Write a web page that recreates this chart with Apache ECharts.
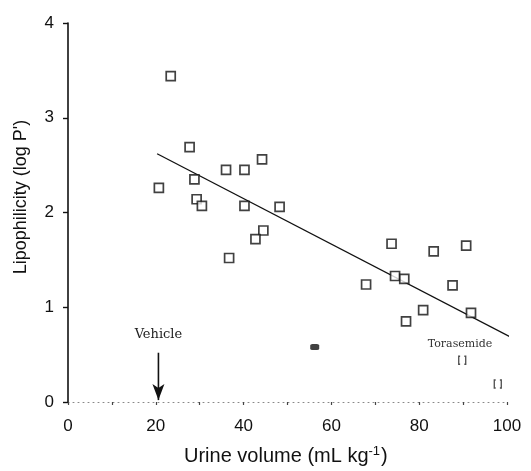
<!DOCTYPE html>
<html><head><meta charset="utf-8">
<script src="https://cdn.jsdelivr.net/npm/echarts@6/dist/echarts.min.js"></script>
<style>html,body{margin:0;padding:0;background:#fff}#c{width:531px;height:471px}</style>
</head><body><div id="c"></div>
<script>
// Data
const compoundX = [23.4, 27.7, 44.2, 36.0, 40.2, 28.8, 20.7, 29.3, 30.5, 40.2, 48.2, 44.5, 42.7, 36.7,
                   73.7, 83.3, 90.7, 74.5, 76.6, 67.9, 87.6, 91.8, 80.9, 77.0];
const compoundY = [3.44, 2.69, 2.56, 2.45, 2.45, 2.35, 2.26, 2.14, 2.07, 2.07, 2.06, 1.81, 1.72, 1.52,
                   1.67, 1.59, 1.65, 1.33, 1.30, 1.24, 1.23, 0.94, 0.97, 0.85];
const torasemideX = [89.8, 97.9];
const torasemideY = [0.44, 0.19];
const blobX = [56.2];
const blobY = [0.58];
const fitX = [20.3, 101.0];
const fitY = [2.62, 0.68];
const xTicks = [0, 20, 40, 60, 80, 100];
const yTicks = [0, 1, 2, 3, 4];
const vehicleX = 20.6;
const arrowY = [0.52, 0.02];
const vehicleLabelY = 0.71;
const vehicleLabel = 'Vehicle';
const torasemideLabel = 'Torasemide';
const torasemideLabelPos = [89.3, 0.61];
const xTitle = 'Urine volume (mL kg';
const xTitleSup = '-1';
const yTitle = "Lipophilicity (log P')";

const zip = (a, b) => a.map((v, i) => [v, b[i]]);
const chart = echarts.init(document.getElementById('c'));
const font = 'Liberation Sans, Arial, Helvetica, sans-serif';
const serif = 'DejaVu Serif, Liberation Serif, serif';
chart.setOption({
  animation: false,
  grid: {left: 68, right: 24, top: 23, bottom: 69},
  xAxis: {
    type: 'value', min: 0, max: 100, interval: 10,
    axisLine: {lineStyle: {color: '#888', type: [1, 4], width: 1}},
    axisTick: {length: 3, inside: false, lineStyle: {color: '#444', width: 1.2}},
    splitLine: {show: false},
    axisLabel: {
      margin: 16, fontSize: 17, color: '#111', fontFamily: font,
      formatter: v => xTicks.indexOf(v) >= 0 ? String(v) : ''
    }
  },
  yAxis: {
    type: 'value', min: 0, max: 4, interval: 1,
    axisLine: {lineStyle: {color: '#111', width: 1.6}},
    axisTick: {length: 5, lineStyle: {color: '#111', width: 1.4}},
    splitLine: {show: false},
    axisLabel: {margin: 14, fontSize: 17, color: '#111', fontFamily: font,
      formatter: v => yTicks.indexOf(v) >= 0 ? String(v) : ''}
  },
  graphic: [{
    type: 'text', left: 184, top: 445,
    style: {
      text: '{a|' + xTitle + '}{s|' + xTitleSup + '}{a|)}',
      rich: {
        a: {fontSize: 20, fill: '#111', fontFamily: font},
        s: {fontSize: 13, fill: '#111', fontFamily: font, verticalAlign: 'top', padding: [0, 1, 10, 0]}
      }
    }
  }, {
    type: 'text', x: 21, y: 197, rotation: Math.PI / 2,
    style: {text: yTitle, fontSize: 18, fill: '#111', fontFamily: font,
      textAlign: 'center', textVerticalAlign: 'middle'}
  }],
  series: [
    {
      type: 'line', data: zip(fitX, fitY), symbol: 'none', clip: false,
      lineStyle: {color: '#111', width: 1.3}, z: 1
    },
    {
      type: 'line', clip: false, showSymbol: true, z: 4,
      data: [
        {value: [vehicleX, arrowY[0]], symbol: 'none'},
        {value: [vehicleX, arrowY[1]], symbol: 'arrow', symbolSize: [9, 16], symbolRotate: 180}
      ],
      lineStyle: {color: '#111', width: 1.6},
      itemStyle: {color: '#111'},
      label: {show: false}
    },
    {
      type: 'scatter', data: zip(compoundX, compoundY), symbol: 'rect', symbolSize: 9,
      itemStyle: {color: '#fff', borderColor: '#111', borderWidth: 1.7}, z: 3
    },
    {
      type: 'scatter', data: zip(torasemideX, torasemideY),
      symbol: 'path://M2,0 L0,0 L0,10 L2,10 M8,0 L10,0 L10,10 L8,10',
      symbolSize: [7, 8],
      itemStyle: {color: 'none', borderColor: '#222', borderWidth: 1.4}, z: 3,
      markPoint: {
        symbol: 'circle', symbolSize: 0,
        data: [{coord: torasemideLabelPos, value: torasemideLabel}],
        label: {show: true, formatter: torasemideLabel, fontSize: 11, color: '#333',
          fontFamily: serif, position: 'inside'}
      }
    },
    {
      type: 'scatter', data: zip(blobX, blobY), symbol: 'roundRect', symbolSize: [9, 6],
      itemStyle: {color: '#111'}, z: 3,
      markPoint: {
        symbol: 'circle', symbolSize: 0,
        data: [{coord: [vehicleX, vehicleLabelY], value: vehicleLabel}],
        label: {show: true, formatter: vehicleLabel, fontSize: 13, color: '#222',
          fontFamily: serif, position: 'inside'}
      }
    }
  ]
});
</script></body></html>
